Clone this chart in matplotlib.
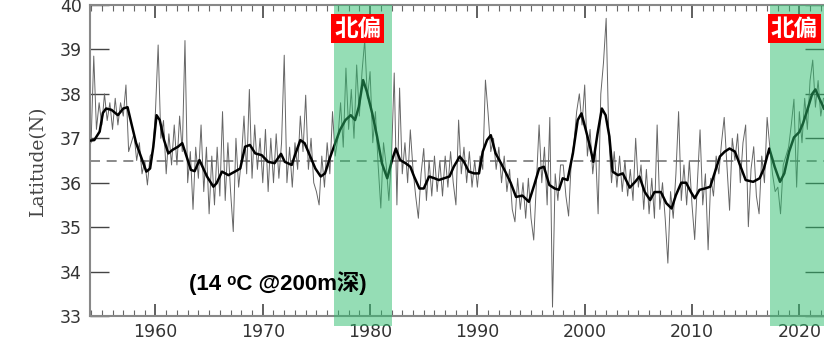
import numpy as np
import matplotlib
matplotlib.use('Agg')
from matplotlib import pyplot as plt
from matplotlib.ticker import MultipleLocator

plt.rcParams['font.family'] = ['DejaVu Sans']

# smoothed curve (year, latitude)
smooth_year = [1954.0, 1954.3, 1954.8, 1955.1, 1955.4, 1955.9, 1956.5, 1957.0, 1957.4, 1957.75,
               1958.2, 1958.7, 1959.15, 1959.5, 1959.8, 1960.1, 1960.4, 1960.8, 1961.2, 1961.6,
               1962.1, 1962.5, 1962.9, 1963.3, 1963.65, 1964.1, 1964.8, 1965.4, 1965.7, 1966.2,
               1966.8, 1967.4, 1967.9, 1968.35, 1968.8, 1969.3, 1969.9, 1970.5, 1971.1, 1971.7,
               1972.05, 1972.7, 1973.0, 1973.5, 1973.9, 1974.3, 1974.9, 1975.4, 1975.8, 1976.3,
               1976.8, 1977.2, 1977.7, 1978.2, 1978.6, 1978.95, 1979.35, 1979.7, 1980.2, 1980.65,
               1981.1, 1981.6, 1982.05, 1982.4, 1982.8, 1983.3, 1983.75, 1984.1, 1984.6, 1985.0,
               1985.5, 1986.0, 1986.4, 1986.9, 1987.4, 1987.8, 1988.35, 1988.75, 1989.2, 1989.7,
               1990.15, 1990.5, 1990.9, 1991.25, 1991.7, 1992.2, 1992.6, 1993.1, 1993.6, 1994.2,
               1994.8, 1995.3, 1995.75, 1996.2, 1996.7, 1997.2, 1997.6, 1997.95, 1998.4, 1998.9,
               1999.35, 1999.7, 2000.1, 2000.5, 2000.8, 2001.2, 2001.6, 2001.95, 2002.3, 2002.6,
               2003.1, 2003.55, 2004.2, 2004.7, 2005.1, 2005.6, 2006.1, 2006.5, 2007.1, 2007.6,
               2008.1, 2008.5, 2009.0, 2009.45, 2009.9, 2010.25, 2010.7, 2011.2, 2011.7, 2012.1,
               2012.6, 2013.05, 2013.5, 2014.0, 2014.6, 2015.0, 2015.7, 2016.3, 2016.7, 2017.2,
               2017.7, 2018.2, 2018.6, 2019.05, 2019.5, 2020.0, 2020.35, 2020.75, 2021.2, 2021.5,
               2021.9, 2022.3]
smooth_lat = [36.95, 36.96, 37.15, 37.57, 37.67, 37.64, 37.52, 37.67, 37.70, 37.34,
              36.89, 36.55, 36.25, 36.32, 36.81, 37.52, 37.41, 36.96, 36.66, 36.74,
              36.81, 36.89, 36.59, 36.29, 36.26, 36.51, 36.14, 35.91, 35.99, 36.25,
              36.17, 36.25, 36.32, 36.81, 36.85, 36.66, 36.62, 36.47, 36.44, 36.65,
              36.47, 36.40, 36.62, 36.96, 36.89, 36.66, 36.32, 36.14, 36.21, 36.59,
              36.92, 37.19, 37.41, 37.52, 37.41, 37.71, 38.31, 38.05, 37.56, 37.04,
              36.44, 36.10, 36.51, 36.77, 36.51, 36.44, 36.36, 36.14, 35.87, 35.87,
              36.14, 36.10, 36.06, 36.10, 36.14, 36.36, 36.59, 36.47, 36.25, 36.21,
              36.21, 36.70, 36.96, 37.07, 36.66, 36.44, 36.25, 36.00, 35.68, 35.71,
              35.57, 35.95, 36.32, 36.36, 35.95, 35.87, 35.84, 36.10, 36.06, 36.66,
              37.41, 37.56, 37.19, 36.81, 36.47, 37.11, 37.67, 37.52, 37.04, 36.25,
              36.17, 36.21, 35.89, 36.02, 36.14, 35.79, 35.61, 35.79, 35.79, 35.54,
              35.42, 35.72, 36.00, 36.00, 35.79, 35.65, 35.84, 35.87, 35.91, 36.21,
              36.59, 36.70, 36.77, 36.70, 36.32, 36.06, 36.02, 36.10, 36.32, 36.77,
              36.36, 36.02, 36.21, 36.70, 37.02, 37.14, 37.34, 37.64, 38.00, 38.10,
              37.88, 37.67]

# raw series, four values a year from 1954
raw_lat = [
    36.90, 38.85, 37.20, 37.80,  # 1954
    37.30, 38.00, 37.40, 37.80,
    37.20, 37.90, 37.30, 37.80,
    37.50, 38.20, 36.70, 36.90,
    37.10, 36.50, 36.90, 36.20,
    36.50, 35.95, 36.60, 36.70,
    37.60, 39.10, 37.00, 37.40,  # 1960
    36.20, 37.10, 36.40, 37.30,
    36.40, 37.50, 36.70, 39.20,
    36.00, 36.70, 35.40, 36.80,
    36.10, 37.30, 35.80, 36.80,
    35.30, 36.60, 35.50, 36.80,
    35.70, 37.60, 35.60, 36.90,
    35.80, 34.90, 37.00, 35.90,
    36.50, 37.50, 36.20, 38.10,
    36.10, 37.30, 36.30, 37.00,
    36.00, 37.20, 35.80, 37.00,  # 1970
    36.00, 37.10, 36.10, 36.90,
    38.87, 36.00, 36.80, 35.90,
    36.90, 36.30, 37.50, 36.70,
    37.97, 36.30, 37.00, 36.00,
    35.80, 35.50, 36.60, 35.90,
    36.90, 36.20, 37.60, 36.60,
    37.00, 37.80, 36.80, 38.58,
    37.20, 38.10, 37.00, 38.65,
    37.50, 38.50, 39.20, 37.90,
    38.50, 36.90, 37.60, 36.40,  # 1980
    35.43, 36.90, 36.40, 35.60,
    36.60, 38.47, 35.50, 38.13,
    36.20, 36.90, 36.00, 37.19,
    36.30, 35.70, 35.20, 36.20,
    36.77, 35.60, 36.50, 35.70,
    36.60, 35.80, 36.50, 35.70,
    36.60, 35.90, 36.70, 36.00,
    35.50, 37.41, 36.20, 36.80,
    36.00, 36.70, 35.90, 36.50,
    35.90, 36.60, 36.30, 38.31,  # 1990
    37.56, 36.70, 37.00, 36.30,
    36.80, 36.00, 36.60, 35.80,
    36.30, 35.40, 35.12, 36.10,
    35.40, 36.00, 35.20, 36.10,
    35.20, 34.71, 36.00, 37.30,
    36.00, 36.80, 35.50, 37.47,
    33.20, 36.20, 35.60, 36.40,
    36.40, 35.70, 35.25, 36.50,
    36.90, 37.60, 38.00, 37.30,
    38.20, 36.60, 37.20, 36.20,  # 2000
    36.80, 35.30, 38.00, 38.70,
    39.70, 37.00, 36.00, 36.70,
    35.90, 36.60, 35.80, 36.50,
    35.70, 36.30, 35.60, 37.00,
    35.90, 36.40, 35.40, 36.30,
    35.30, 36.10, 35.20, 37.30,
    35.40, 36.00, 35.20, 34.19,
    35.80, 35.20, 36.20, 37.60,
    35.60, 36.40, 35.50, 36.50,
    35.50, 34.72, 36.00, 37.19,  # 2010
    35.50, 36.20, 34.49, 36.10,
    35.70, 36.60, 36.20, 36.90,
    37.47, 36.40, 35.38, 37.00,
    36.50, 37.10, 36.00, 36.90,
    37.30, 35.01, 36.30, 36.81,
    35.70, 35.30, 36.60, 36.00,
    37.47, 36.80, 36.20, 35.80,
    35.90, 35.30, 36.40, 36.60,
    36.80, 37.30, 37.88, 35.90,
    37.60, 36.90, 37.90, 37.20,  # 2020
    38.30, 38.76, 37.70, 38.30,
    37.50, 37.90,
]
raw_year = 1954.0 + 0.25 * np.arange(len(raw_lat))

mean_lat = 36.5
north_spans = [(1976.6, 1982.0), (2017.3, 2023.0)]
span_label = '北偏'
note = '(14 \u1d52C @200m深)'

fig = plt.figure(figsize=(8.24, 3.42), dpi=100)
ax = fig.add_axes([90 / 824, 1 - 316 / 342, 1 - 90 / 824, 311 / 342])

ax.plot(raw_year, raw_lat, color='#666666', lw=0.7, zorder=2)
ax.plot(smooth_year, smooth_lat, color='black', lw=1.8, zorder=3)
ax.axhline(mean_lat, color='#777777', lw=1.2, dashes=(6, 4), zorder=1)

for x0, x1 in north_spans:
    ax.axvspan(x0, x1, ymin=-0.032, ymax=1.0, color='#2dbd6d', alpha=0.5,
               lw=0, zorder=4, clip_on=False)
    ax.text(x0 + 0.05, 39.47, span_label, ha='left', va='center', fontsize=17,
            fontweight='bold', color='white', zorder=6,
            family=['Noto Sans CJK SC', 'DejaVu Sans'],
            bbox=dict(boxstyle='square,pad=0.12', fc='#ff0000', ec='none'))

ax.text(1971.4, 33.74, note, fontsize=16, fontweight='bold', color='black',
        va='center', ha='center',
        family=['Liberation Sans', 'DejaVu Sans', 'Noto Sans CJK SC'], zorder=5)

ax.set_xlim(1953.9, 2022.3)
ax.set_ylim(33, 40)
ax.xaxis.set_major_locator(MultipleLocator(10))
ax.xaxis.set_minor_locator(MultipleLocator(1))
ax.yaxis.set_major_locator(MultipleLocator(1))
ax.tick_params(axis='x', which='major', direction='in', length=9, width=1.2,
               top=True, color='#444444', labelsize=12.5, labelcolor='#333333', pad=5)
ax.tick_params(axis='x', which='minor', direction='in', length=4, width=0.8,
               top=True, color='#666666')
ax.tick_params(axis='y', which='major', direction='in', length=14, width=1.0,
               right=True, color='#444444', labelsize=12.5, labelcolor='#333333', pad=6)
for side in ['left', 'bottom', 'top']:
    ax.spines[side].set_color('#888888')
    ax.spines[side].set_linewidth(1.5)
ax.spines['right'].set_visible(False)

ax.set_ylabel('Latitude(N)', family='DejaVu Serif', fontsize=13.5, color='#444444',
              labelpad=9)

fig.savefig('out.png', dpi=100)
